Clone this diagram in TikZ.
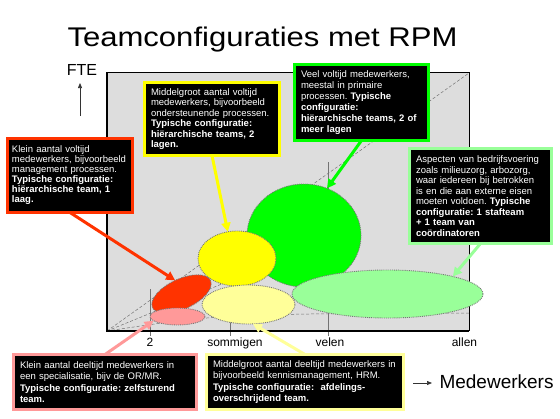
\documentclass[tikz,border=0pt]{standalone}
\usepackage{fontspec}
\setmainfont{Liberation Sans}
\newfontfamily\titlefont[FakeStretch=1.15]{Liberation Sans}
\usetikzlibrary{shapes.geometric,arrows.meta}
\definecolor{bggray}{HTML}{DDDDDD}
\definecolor{cred}{HTML}{FF3300}
\definecolor{cyellow}{HTML}{FFFF00}
\definecolor{cgreen}{HTML}{00FF00}
\definecolor{clgreen}{HTML}{99FF99}
\definecolor{clyellow}{HTML}{FFFF99}
\definecolor{cpink}{HTML}{FF9999}
\definecolor{dotgray}{HTML}{777777}
\frenchspacing
\hyphenpenalty=10000
\begin{document}
\begin{tikzpicture}[x=1pt,y=-1pt,
  infobox/.style={draw=#1, line width=3pt, fill=black, text=white, align=left,
    anchor=north west, inner xsep=6.5pt, inner ysep=2pt, outer sep=0pt},
  ell/.style={ellipse, draw=dotgray, densely dotted, line width=0.9pt, fill=#1,
    inner sep=0pt, outer sep=0pt},
  conn/.style={draw=#1, line width=3pt, -{Triangle[length=9pt,width=9pt]}},
  thinarrow/.style={draw=black!80, line width=0.7pt, -{Triangle[length=5pt,width=4pt]}},
  guide/.style={draw=black!55, line width=0.5pt, densely dashed},
  tick/.style={draw=black!55, line width=0.6pt},
  axislabel/.style={font=\fontsize{12}{14}\selectfont, anchor=base}
]
\useasboundingbox (0,0) rectangle (560,418);

% title
\node[anchor=base, font=\titlefont\fontsize{27}{30}\selectfont] (title) at (262.5,46) {Teamconfiguraties met RPM};

% chart background
\fill[bggray] (107,72) rectangle (469,331);
\draw[guide] (107,331) -- (469,73);
\draw[guide] (107,331) -- (300,252);
\draw[guide] (107,331) .. controls (220,314) .. (469,313);
\draw[tick] (150,289) -- (150,336);
\draw[tick] (230,290) -- (230,336);
\draw[tick] (328,162) -- (328,336);
\draw[line width=1pt] (107,72) -- (469,72) -- (469,331);
\draw[line width=2pt] (107,72) -- (107,331) -- (469,331);

% ellipses
\node[ell=cgreen, minimum width=114pt, minimum height=103pt] (gell) at (304,235.5) {};
\node[ell=cyellow, minimum width=78pt, minimum height=55pt] (yell) at (237,258.5) {};
\node[ell=clgreen, minimum width=191pt, minimum height=48pt] (lgell) at (387.5,294) {};
\node[ell=clyellow, minimum width=93pt, minimum height=39pt] (lyell) at (248.5,304.5) {};
\node[ell=cred, minimum width=64pt, minimum height=30pt, rotate=25] (rell) at (181.5,294) {};
\node[ell=cpink, minimum width=55pt, minimum height=17pt] (pell) at (177.5,316.5) {};

% axis labels
\node[axislabel] (l2) at (150,346) {2};
\node[axislabel] (lsom) at (235,346) {sommigen};
\node[axislabel] (lvel) at (330,346) {velen};
\node[axislabel] (lall) at (464.5,346) {allen};

% FTE and Medewerkers
\node[anchor=base, font=\fontsize{16}{18}\selectfont] (fte) at (82,75) {FTE};
\coordinate (ftebase) at (80,116);
\coordinate (ftetip) at (80,83);
\draw[thinarrow] (ftebase) -- (ftetip);
\node[anchor=base west, font=\fontsize{19}{22}\selectfont] (mw) at (436,388) {Medewerkers};
\coordinate (mwbase) at (413,383);
\coordinate (mwtip) at (432,383);
\draw[thinarrow] (mwbase) -- (mwtip);

% info boxes
\node[infobox=cred, inner xsep=4.5pt, text width=116pt, minimum height=74pt, font=\fontsize{9.5}{10}\selectfont] (redbox) at (7.5,138.5)
  {Klein aantal voltijd\\ medewerkers, bijvoorbeeld\\ management processen.\\ \textbf{Typische configuratie:}\\ \textbf{hiërarchische team, 1}\\ \textbf{laag.}};
\node[infobox=cyellow, text width=122pt, minimum height=73pt, font=\fontsize{9.5}{10.4}\selectfont] (ybox) at (144.5,82.5)
  {Middelgroot aantal voltijd\\ medewerkers, bijvoorbeeld\\ ondersteunende processen.\\ \textbf{Typische configuratie:}\\ \textbf{hiërarchische teams, 2}\\ \textbf{lagen.}};
\node[infobox=cgreen, text width=121pt, minimum height=76pt, font=\fontsize{9.5}{11}\selectfont] (gbox) at (294.5,64.5)
  {Veel voltijd medewerkers,\\ meestal in primaire\\ processen. \textbf{Typische}\\ \textbf{configuratie:}\\ \textbf{hiërarchische teams, 2 of}\\ \textbf{meer lagen}};
\node[infobox=clgreen, text width=129pt, minimum height=95pt, font=\fontsize{9.5}{10.5}\selectfont] (lgbox) at (409.5,148.5)
  {Aspecten van bedrijfsvoering\\ zoals milieuzorg, arbozorg,\\ waar iedereen bij betrokken\\ is en die aan externe eisen\\ moeten voldoen. \textbf{Typische}\\ \textbf{configuratie: 1 stafteam}\\ \textbf{+ 1 team van}\\ \textbf{coördinatoren}};
\node[infobox=cpink, text width=170pt, minimum height=55pt, font=\fontsize{9.5}{11.5}\selectfont] (pbox) at (13.5,354.5)
  {Klein aantal deeltijd medewerkers in\\ een specialisatie, bijv de OR/MR.\\ \textbf{Typische configuratie: zelfsturend}\\ \textbf{team.}};
\node[infobox=clyellow, text width=184pt, minimum height=55pt, font=\fontsize{9.5}{11.5}\selectfont] (lybox) at (206.5,354.5)
  {Middelgroot aantal deeltijd medewerkers in\\ bijvoorbeeld kennismanagement, HRM.\\ \textbf{Typische configuratie:\ \ afdelings-}\\ \textbf{overschrijdend team.}};

% connectors
\draw[conn=cred] (redbox.south) -- (rell.north);
\draw[conn=cyellow] (ybox.south) -- (yell.109);
\draw[conn=cgreen] (gbox.south) -- (gell.64);
\draw[conn=clgreen] (lgbox.south) -- (lgell.15);
\draw[conn=cpink] (pbox.north) -- (pell.190);
\draw[conn=clyellow] (lybox.north) -- (lyell.-77);
\end{tikzpicture}
\end{document}
